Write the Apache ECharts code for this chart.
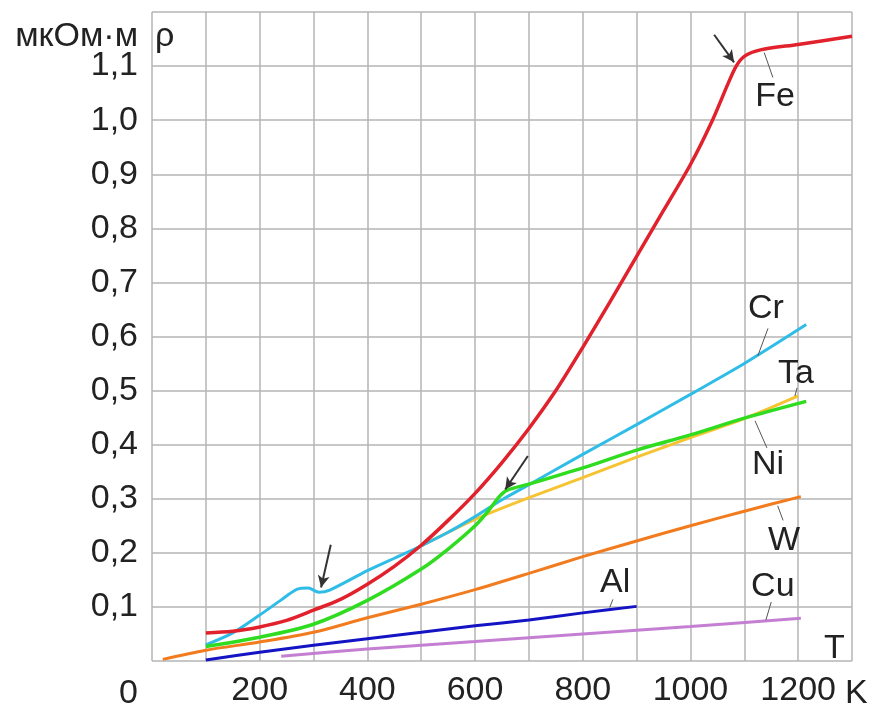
<!doctype html>
<html>
<head>
    <meta charset="utf-8">
    <title>Удельное сопротивление металлов</title>
    <script src="https://cdn.jsdelivr.net/npm/echarts@6/dist/echarts.min.js"></script>
    <style>
        html,body{margin:0;padding:0;background:#fff;}
        #chart{width:878px;height:708px;}
    </style>
</head>
<body>
<div id="chart"></div>
<script type="text/javascript">
    // T, K  ->  rho, мкОм·м
    var fe = [[100,0.052],[150,0.055],[200,0.063],[250,0.075],[300,0.094],[350,0.114],[400,0.142],[450,0.175],
              [500,0.214],[550,0.26],[600,0.31],[650,0.367],[700,0.43],[750,0.5],[800,0.58],[850,0.663],
              [900,0.748],[950,0.833],[1000,0.918],[1040,0.998],[1070,1.068],[1085,1.1],[1100,1.118],[1130,1.13],
              [1200,1.14],[1300,1.155]];
    var cr = [[100,0.03],[150,0.052],[200,0.085],[240,0.113],[270,0.133],[290,0.135],[310,0.127],[330,0.131],
              [400,0.167],[450,0.19],[500,0.213],[550,0.238],[600,0.267],[650,0.298],[700,0.326],[800,0.382],
              [900,0.437],[1000,0.493],[1100,0.55],[1215,0.622]];
    var ta = [[500,0.213],[600,0.262],[700,0.302],[800,0.339],[900,0.377],[1000,0.413],[1100,0.448],[1200,0.49]];
    var ni = [[100,0.027],[200,0.044],[300,0.068],[400,0.112],[500,0.17],[550,0.207],[600,0.25],[625,0.278],
              [645,0.304],[660,0.316],[700,0.327],[800,0.357],[900,0.39],[1000,0.418],[1100,0.449],[1215,0.48]];
    var w  = [[20,0.003],[100,0.02],[200,0.035],[300,0.053],[400,0.08],[500,0.105],[600,0.132],[700,0.162],
              [800,0.193],[900,0.222],[1000,0.25],[1100,0.277],[1205,0.304]];
    var al = [[100,0.002],[200,0.016],[300,0.029],[400,0.041],[500,0.053],[600,0.065],[700,0.076],[800,0.089],[900,0.101]];
    var cu = [[240,0.009],[400,0.022],[600,0.036],[800,0.05],[1000,0.064],[1205,0.079]];

    var xLabels = [200,400,600,800,1000,1200];

    // подписи кривых и выноски (в координатах графика)
    var tags = {
        Fe: {at:[1157,1.044], lead:[[1137,1.125],[1153,1.079]]},
        Cr: {at:[1140,0.652], lead:[[1144,0.615],[1125,0.564]]},
        Ta: {at:[1196,0.532], lead:[[1198,0.505],[1194,0.49]]},
        Ni: {at:[1144,0.363], lead:[[1120,0.444],[1142,0.394]]},
        W:  {at:[1174,0.223], lead:[[1162,0.287],[1172,0.26]]},
        Al: {at:[860,0.145],  lead:[[850,0.099],[856,0.114]]},
        Cu: {at:[1153,0.138], lead:[[1140,0.0755],[1150,0.109]]}
    };
    // стрелки
    var arrows = {
        Fe: [[1044,1.158],[1081,1.107]],
        Cr: [[332,0.215],[314,0.136]],
        Ni: [[698,0.379],[656,0.317]]
    };

    var FONT = '"Liberation Sans", Arial, sans-serif';
    var TXT = '#222';
    var FS = 34;

    function mkSeries(name, data, color, width){
        var t = tags[name];
        var lines = [[{coord:t.lead[0]},{coord:t.lead[1]}]];
        var s = {
            name: name,
            type: 'line',
            data: data,
            smooth: 0.3,
            showSymbol: false,
            symbol: 'none',
            lineStyle: {color: color, width: width},
            itemStyle: {color: color},
            z: 2,
            markPoint: {
                symbol: 'circle',
                symbolSize: 1,
                itemStyle: {color: 'rgba(0,0,0,0)'},
                label: {show: true, position: 'inside', formatter: name, fontSize: FS, color: TXT, fontFamily: FONT},
                data: [{coord: t.at}]
            },
            markLine: {
                silent: true,
                symbol: ['none','none'],
                label: {show: false},
                lineStyle: {color: '#555', width: 1, type: 'solid'},
                data: lines
            }
        };
        if (arrows[name]) {
            s.markLine.data.push([
                {coord: arrows[name][0], symbol: 'none', lineStyle: {color: '#333', width: 2}},
                {coord: arrows[name][1], symbol: 'arrow', symbolSize: [9, 12], lineStyle: {color: '#333', width: 2}}
            ]);
        }
        return s;
    }

    var myChart = echarts.init(document.getElementById('chart'));
    var option = {
        animation: false,
        backgroundColor: '#fff',
        grid: {left: 152, right: 26, top: 12, bottom: 44},
        xAxis: {
            type: 'value', min: 0, max: 1300, interval: 100,
            axisLine: {show: false}, axisTick: {show: false},
            splitLine: {show: true, showMinLine: true, showMaxLine: true, lineStyle: {color: '#b4b4b4', width: 1.5}},
            axisLabel: {
                margin: 13, fontSize: FS, color: TXT, fontFamily: FONT,
                formatter: function (v) { return xLabels.indexOf(v) >= 0 ? String(v) : ''; }
            }
        },
        yAxis: {
            type: 'value', min: 0, max: 1.2, interval: 0.1,
            axisLine: {show: false}, axisTick: {show: false},
            splitLine: {show: true, showMinLine: true, showMaxLine: true, lineStyle: {color: '#b4b4b4', width: 1.5}},
            axisLabel: {
                margin: 14, fontSize: FS, color: TXT, fontFamily: FONT,
                formatter: function (v) {
                    var r = Math.round(v * 10);
                    if (r === 0 || r === 12) return '';
                    return (r / 10).toFixed(1).replace('.', ',');
                }
            }
        },
        graphic: [
            {type: 'text', right: 878 - 138, top: 20, style: {text: 'мкОм·м', fontSize: FS, fill: TXT, fontFamily: FONT}},
            {type: 'text', left: 155, top: 20, style: {text: 'ρ', fontSize: FS, fill: TXT, fontFamily: FONT}},
            {type: 'text', left: 119, top: 677, style: {text: '0', fontSize: FS, fill: TXT, fontFamily: FONT}},
            {type: 'text', left: 845, top: 677, style: {text: 'K', fontSize: FS, fill: TXT, fontFamily: FONT}},
            {type: 'text', left: 824, top: 632, style: {text: 'T', fontSize: FS, fill: TXT, fontFamily: FONT}}
        ],
        series: [
            mkSeries('Cu', cu, '#c47fd3', 3),
            mkSeries('Al', al, '#1414c4', 3),
            mkSeries('W',  w,  '#f27b1d', 3),
            mkSeries('Ta', ta, '#f6c432', 3),
            mkSeries('Cr', cr, '#2fbde8', 3),
            mkSeries('Ni', ni, '#2fdc20', 3.5),
            mkSeries('Fe', fe, '#e1212b', 3.5)
        ]
    };
    myChart.setOption(option);
</script>
</body>
</html>
